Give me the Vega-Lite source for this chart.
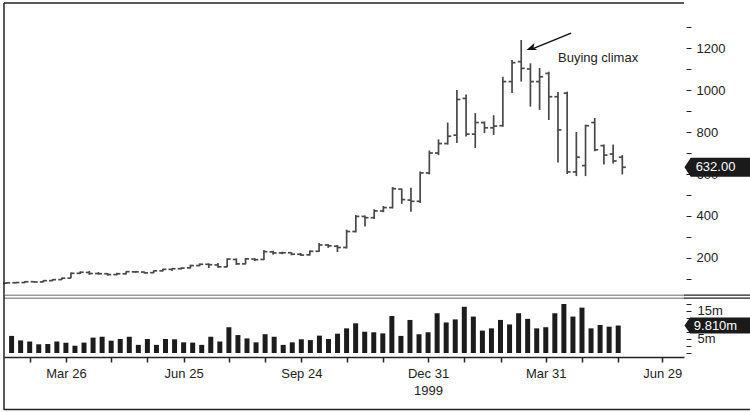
{
  "$schema": "https://vega.github.io/schema/vega-lite/v6.json",
  "padding": {"left": 2, "top": 2, "right": 0, "bottom": 0},
  "background": "white",
  "spacing": 0,
  "bounds": "flush",
  "config": {
    "view": {"stroke": null},
    "font": "Liberation Sans",
    "axis": {"labelFont": "Liberation Sans", "labelFontSize": 13, "labelColor": "#222", "tickColor": "#222", "domain": false, "grid": false, "title": null}
  },
  "datasets": {
    "w": [
      {"d": "1999-02-12", "o": 80, "h": 85, "l": 78, "c": 82, "v": 6.1},
      {"d": "1999-02-19", "o": 82, "h": 86, "l": 80, "c": 83, "v": 4.5},
      {"d": "1999-02-26", "o": 83, "h": 90, "l": 81, "c": 87, "v": 4.1},
      {"d": "1999-03-05", "o": 87, "h": 90, "l": 84, "c": 86, "v": 3.1},
      {"d": "1999-03-12", "o": 86, "h": 95, "l": 85, "c": 92, "v": 3.2},
      {"d": "1999-03-19", "o": 92, "h": 99, "l": 90, "c": 97, "v": 4.1},
      {"d": "1999-03-26", "o": 97, "h": 106, "l": 95, "c": 104, "v": 3.7},
      {"d": "1999-04-02", "o": 104, "h": 131, "l": 103, "c": 127, "v": 2.6},
      {"d": "1999-04-09", "o": 127, "h": 136, "l": 124, "c": 132, "v": 3.7},
      {"d": "1999-04-16", "o": 131, "h": 138, "l": 120, "c": 126, "v": 5.5},
      {"d": "1999-04-23", "o": 126, "h": 133, "l": 121, "c": 125, "v": 5.8},
      {"d": "1999-04-30", "o": 125, "h": 128, "l": 116, "c": 121, "v": 4.4},
      {"d": "1999-05-07", "o": 121, "h": 130, "l": 118, "c": 125, "v": 5.0},
      {"d": "1999-05-14", "o": 125, "h": 137, "l": 122, "c": 135, "v": 5.8},
      {"d": "1999-05-21", "o": 134, "h": 138, "l": 130, "c": 134, "v": 2.9},
      {"d": "1999-05-28", "o": 133, "h": 135, "l": 126, "c": 129, "v": 5.0},
      {"d": "1999-06-04", "o": 130, "h": 141, "l": 128, "c": 139, "v": 2.9},
      {"d": "1999-06-11", "o": 139, "h": 149, "l": 136, "c": 146, "v": 5.0},
      {"d": "1999-06-18", "o": 146, "h": 150, "l": 138, "c": 149, "v": 4.9},
      {"d": "1999-06-25", "o": 149, "h": 155, "l": 145, "c": 152, "v": 3.8},
      {"d": "1999-07-02", "o": 153, "h": 168, "l": 150, "c": 164, "v": 3.7},
      {"d": "1999-07-09", "o": 164, "h": 174, "l": 161, "c": 170, "v": 2.9},
      {"d": "1999-07-16", "o": 170, "h": 174, "l": 152, "c": 168, "v": 5.8},
      {"d": "1999-07-23", "o": 167, "h": 176, "l": 153, "c": 158, "v": 4.1},
      {"d": "1999-07-30", "o": 158, "h": 198, "l": 156, "c": 195, "v": 9.2},
      {"d": "1999-08-06", "o": 193, "h": 198, "l": 167, "c": 172, "v": 6.4},
      {"d": "1999-08-13", "o": 172, "h": 200, "l": 170, "c": 196, "v": 5.2},
      {"d": "1999-08-20", "o": 195, "h": 199, "l": 185, "c": 192, "v": 3.8},
      {"d": "1999-08-27", "o": 193, "h": 238, "l": 190, "c": 230, "v": 6.7},
      {"d": "1999-09-03", "o": 229, "h": 234, "l": 216, "c": 224, "v": 5.8},
      {"d": "1999-09-10", "o": 224, "h": 230, "l": 218, "c": 225, "v": 2.9},
      {"d": "1999-09-17", "o": 225, "h": 228, "l": 213, "c": 218, "v": 3.8},
      {"d": "1999-09-24", "o": 218, "h": 224, "l": 210, "c": 214, "v": 4.9},
      {"d": "1999-10-01", "o": 215, "h": 236, "l": 212, "c": 232, "v": 4.6},
      {"d": "1999-10-08", "o": 232, "h": 272, "l": 228, "c": 262, "v": 6.2},
      {"d": "1999-10-15", "o": 262, "h": 266, "l": 248, "c": 258, "v": 5.0},
      {"d": "1999-10-22", "o": 256, "h": 262, "l": 228, "c": 250, "v": 6.9},
      {"d": "1999-10-29", "o": 250, "h": 335, "l": 245, "c": 326, "v": 8.8},
      {"d": "1999-11-05", "o": 326, "h": 405, "l": 322, "c": 398, "v": 10.6},
      {"d": "1999-11-12", "o": 398, "h": 402, "l": 350, "c": 392, "v": 7.6},
      {"d": "1999-11-19", "o": 392, "h": 432, "l": 386, "c": 424, "v": 7.4},
      {"d": "1999-11-26", "o": 424, "h": 448, "l": 418, "c": 440, "v": 7.0},
      {"d": "1999-12-03", "o": 440, "h": 538, "l": 436, "c": 530, "v": 13.2},
      {"d": "1999-12-10", "o": 528, "h": 530, "l": 458, "c": 478, "v": 6.1},
      {"d": "1999-12-17", "o": 476, "h": 534, "l": 420, "c": 470, "v": 11.8},
      {"d": "1999-12-24", "o": 470, "h": 612, "l": 462, "c": 605, "v": 6.7},
      {"d": "1999-12-31", "o": 605, "h": 712, "l": 598, "c": 700, "v": 7.4},
      {"d": "2000-01-07", "o": 700, "h": 765, "l": 690, "c": 745, "v": 14.2},
      {"d": "2000-01-14", "o": 745, "h": 845, "l": 740, "c": 780, "v": 10.9},
      {"d": "2000-01-21", "o": 785, "h": 1000, "l": 748, "c": 955, "v": 12.0},
      {"d": "2000-01-28", "o": 960, "h": 978, "l": 778, "c": 790, "v": 16.5},
      {"d": "2000-02-04", "o": 790, "h": 890, "l": 724, "c": 845, "v": 13.0},
      {"d": "2000-02-11", "o": 845, "h": 850, "l": 795, "c": 820, "v": 8.0},
      {"d": "2000-02-18", "o": 820, "h": 880, "l": 786, "c": 828, "v": 8.8},
      {"d": "2000-02-25", "o": 830, "h": 1063, "l": 825, "c": 1040, "v": 11.8},
      {"d": "2000-03-03", "o": 1040, "h": 1143, "l": 986, "c": 1130, "v": 10.2},
      {"d": "2000-03-10", "o": 1135, "h": 1238, "l": 1040, "c": 1103, "v": 14.2},
      {"d": "2000-03-17", "o": 1100, "h": 1127, "l": 921, "c": 1040, "v": 12.2},
      {"d": "2000-03-24", "o": 1040, "h": 1105, "l": 905, "c": 1063, "v": 8.8},
      {"d": "2000-03-31", "o": 1079, "h": 1087, "l": 857, "c": 968, "v": 9.2},
      {"d": "2000-04-07", "o": 968, "h": 990, "l": 655, "c": 810, "v": 14.2},
      {"d": "2000-04-14", "o": 985, "h": 992, "l": 600, "c": 610, "v": 17.5},
      {"d": "2000-04-21", "o": 610, "h": 800, "l": 590, "c": 680, "v": 13.0},
      {"d": "2000-04-28", "o": 640, "h": 835, "l": 590, "c": 830, "v": 16.2},
      {"d": "2000-05-05", "o": 845, "h": 867, "l": 708, "c": 715, "v": 8.8},
      {"d": "2000-05-12", "o": 735, "h": 740, "l": 645, "c": 690, "v": 10.0},
      {"d": "2000-05-19", "o": 695, "h": 740, "l": 650, "c": 662, "v": 9.4},
      {"d": "2000-05-26", "o": 680, "h": 690, "l": 598, "c": 632, "v": 9.81}
    ]
  },
  "vconcat": [
    {
      "width": 680,
      "height": 292,
      "data": {"name": "w"},
      "resolve": {"scale": {"x": "independent", "y": "independent"}, "axis": {"x": "independent", "y": "independent"}},
      "layer": [
        {
          "mark": {"type": "rule", "color": "#484848", "strokeWidth": 1.7},
          "encoding": {
            "x": {"field": "d", "type": "temporal", "axis": null,
                  "scale": {"domain": [{"year": 1999, "month": 2, "date": 10, "utc": true}, {"year": 2000, "month": 7, "date": 12, "utc": true}]}},
            "y": {"field": "l", "type": "quantitative",
                  "scale": {"domain": [23.8, 1414.3], "zero": false, "nice": false},
                  "axis": {"orient": "right", "offset": 2, "tickSize": 5, "labelPadding": 5,
                           "values": [100, 200, 300, 400, 500, 600, 700, 800, 900, 1000, 1100, 1200, 1300],
                           "labelExpr": "datum.value % 200 == 0 ? format(datum.value, 'd') : ''", "labelBaseline": "middle"}},
            "y2": {"field": "h"}
          }
        },
        {
          "mark": {"type": "rule", "color": "#484848", "strokeWidth": 1.7, "x2Offset": -3.5},
          "encoding": {
            "x": {"field": "d", "type": "temporal", "axis": null, "scale": {"domain": [{"year": 1999, "month": 2, "date": 10, "utc": true}, {"year": 2000, "month": 7, "date": 12, "utc": true}]}},
            "x2": {"field": "d"},
            "y": {"field": "o", "type": "quantitative", "axis": null, "scale": {"domain": [23.8, 1414.3], "zero": false, "nice": false}}
          }
        },
        {
          "mark": {"type": "rule", "color": "#484848", "strokeWidth": 1.7, "x2Offset": 3.5},
          "encoding": {
            "x": {"field": "d", "type": "temporal", "axis": null, "scale": {"domain": [{"year": 1999, "month": 2, "date": 10, "utc": true}, {"year": 2000, "month": 7, "date": 12, "utc": true}]}},
            "x2": {"field": "d"},
            "y": {"field": "c", "type": "quantitative", "axis": null, "scale": {"domain": [23.8, 1414.3], "zero": false, "nice": false}}
          }
        },
        {
          "data": {"values": [{}]},
          "mark": {"type": "rule", "color": "#222", "strokeWidth": 1.5},
          "encoding": {
            "x": {"datum": {"year": 1999, "month": 2, "date": 10, "utc": true}, "type": "temporal", "axis": null, "scale": {"domain": [{"year": 1999, "month": 2, "date": 10, "utc": true}, {"year": 2000, "month": 7, "date": 12, "utc": true}]}},
            "x2": {"datum": {"year": 2000, "month": 7, "date": 12, "utc": true}},
            "y": {"datum": 1414.3, "type": "quantitative", "axis": null, "scale": {"domain": [23.8, 1414.3], "zero": false, "nice": false}}
          }
        },
        {
          "data": {"values": [{}]},
          "mark": {"type": "rule", "color": "#222", "strokeWidth": 1.5},
          "encoding": {
            "x": {"datum": {"year": 1999, "month": 2, "date": 10, "utc": true}, "type": "temporal", "axis": null, "scale": {"domain": [{"year": 1999, "month": 2, "date": 10, "utc": true}, {"year": 2000, "month": 7, "date": 12, "utc": true}]}},
            "y": {"datum": 23.8, "type": "quantitative", "axis": null, "scale": {"domain": [23.8, 1414.3], "zero": false, "nice": false}},
            "y2": {"datum": 1414.3}
          }
        },
        {
          "data": {"values": [{}]},
          "mark": {"type": "text", "text": "Buying climax", "align": "left", "baseline": "middle", "fontSize": 13, "color": "#222"},
          "encoding": {
            "x": {"datum": {"year": 2000, "month": 4, "date": 7, "utc": true}, "type": "temporal", "axis": null, "scale": {"domain": [{"year": 1999, "month": 2, "date": 10, "utc": true}, {"year": 2000, "month": 7, "date": 12, "utc": true}]}},
            "y": {"datum": 1152, "type": "quantitative", "axis": null, "scale": {"domain": [23.8, 1414.3], "zero": false, "nice": false}}
          }
        },
        {
          "data": {"values": [{}]},
          "mark": {"type": "rule", "color": "#111", "strokeWidth": 1.5},
          "encoding": {
            "x": {"datum": {"year": 2000, "month": 4, "date": 17, "utc": true}, "type": "temporal", "axis": null, "scale": {"domain": [{"year": 1999, "month": 2, "date": 10, "utc": true}, {"year": 2000, "month": 7, "date": 12, "utc": true}]}},
            "x2": {"datum": {"year": 2000, "month": 3, "date": 19, "utc": true}},
            "y": {"datum": 1271, "type": "quantitative", "axis": null, "scale": {"domain": [23.8, 1414.3], "zero": false, "nice": false}},
            "y2": {"datum": 1197}
          }
        },
        {
          "data": {"values": [{}]},
          "mark": {"type": "point", "shape": "M 0 0 L 2 -0.75 L 1.5 0 L 2 0.75 Z", "filled": true, "color": "#111", "opacity": 1, "size": 100, "angle": 339},
          "encoding": {
            "x": {"datum": {"year": 2000, "month": 3, "date": 14, "utc": true}, "type": "temporal", "axis": null, "scale": {"domain": [{"year": 1999, "month": 2, "date": 10, "utc": true}, {"year": 2000, "month": 7, "date": 12, "utc": true}]}},
            "y": {"datum": 1190, "type": "quantitative", "axis": null, "scale": {"domain": [23.8, 1414.3], "zero": false, "nice": false}}
          }
        },
        {
          "transform": [{"filter": "utcyear(datum.d) == 2000 && utcmonth(datum.d) == 4 && utcdate(datum.d) == 26"}],
          "mark": {"type": "point", "shape": "M -1 0 L -0.82 -0.27 L 1 -0.27 L 1 0.27 L -0.82 0.27 Z", "filled": true, "color": "#1a1a1a", "opacity": 1, "size": 4900},
          "encoding": {
            "x": {"datum": {"year": 2000, "month": 8, "date": 8, "utc": true}, "type": "temporal", "axis": null, "scale": {"domain": [{"year": 1999, "month": 2, "date": 10, "utc": true}, {"year": 2000, "month": 7, "date": 12, "utc": true}]}},
            "y": {"field": "c", "type": "quantitative", "axis": null, "scale": {"domain": [23.8, 1414.3], "zero": false, "nice": false}}
          }
        },
        {
          "transform": [{"filter": "utcyear(datum.d) == 2000 && utcmonth(datum.d) == 4 && utcdate(datum.d) == 26"}],
          "mark": {"type": "text", "align": "center", "baseline": "middle", "fontSize": 13, "color": "white"},
          "encoding": {
            "x": {"datum": {"year": 2000, "month": 8, "date": 5, "utc": true}, "type": "temporal", "axis": null, "scale": {"domain": [{"year": 1999, "month": 2, "date": 10, "utc": true}, {"year": 2000, "month": 7, "date": 12, "utc": true}]}},
            "y": {"field": "c", "type": "quantitative", "axis": null, "scale": {"domain": [23.8, 1414.3], "zero": false, "nice": false}},
            "text": {"field": "c", "type": "quantitative", "format": ".2f"}
          }
        }
      ]
    },
    {
      "width": 680,
      "height": 115,
      "data": {"name": "w"},
      "resolve": {"scale": {"x": "independent", "y": "independent"}, "axis": {"x": "independent", "y": "independent"}},
      "layer": [
        {
          "mark": {"type": "bar", "color": "#1c1c1c", "size": 5},
          "encoding": {
            "x": {"field": "d", "type": "temporal",
                  "scale": {"domain": [{"year": 1999, "month": 2, "date": 10, "utc": true}, {"year": 2000, "month": 7, "date": 12, "utc": true}]},
                  "axis": {"orient": "bottom", "offset": -53, "domain": true, "domainColor": "#222", "domainWidth": 1.5,
                           "tickSize": 5, "tickWidth": 1.5, "labelPadding": 5, "labelOverlap": false, "labelFlush": false, "labelLineHeight": 17,
                           "values": [
                             {"year": 1999, "month": 2, "date": 26, "utc": true},
                             {"year": 1999, "month": 3, "date": 26, "utc": true},
                             {"year": 1999, "month": 4, "date": 30, "utc": true},
                             {"year": 1999, "month": 5, "date": 28, "utc": true},
                             {"year": 1999, "month": 6, "date": 25, "utc": true},
                             {"year": 1999, "month": 7, "date": 30, "utc": true},
                             {"year": 1999, "month": 8, "date": 27, "utc": true},
                             {"year": 1999, "month": 9, "date": 24, "utc": true},
                             {"year": 1999, "month": 10, "date": 29, "utc": true},
                             {"year": 1999, "month": 11, "date": 26, "utc": true},
                             {"year": 1999, "month": 12, "date": 31, "utc": true},
                             {"year": 2000, "month": 1, "date": 28, "utc": true},
                             {"year": 2000, "month": 2, "date": 25, "utc": true},
                             {"year": 2000, "month": 3, "date": 31, "utc": true},
                             {"year": 2000, "month": 4, "date": 28, "utc": true},
                             {"year": 2000, "month": 5, "date": 26, "utc": true},
                             {"year": 2000, "month": 6, "date": 29, "utc": true}
                           ],
                           "labelExpr": "indexof([2,5,8,11], utcmonth(datum.value)) >= 0 ? (utcmonth(datum.value) == 11 ? [utcFormat(datum.value, '%b %d'), '1999'] : utcFormat(datum.value, '%b %d')) : ''"}},
            "y": {"field": "v", "type": "quantitative",
                  "scale": {"domain": [-20.36, 20.71], "zero": false, "nice": false},
                  "axis": {"orient": "right", "offset": 2, "tickSize": 5, "labelPadding": 6,
                           "values": [0, 2.5, 5, 7.5, 10, 12.5, 15, 17.5],
                           "labelExpr": "datum.value == 5 || datum.value == 15 ? datum.value + 'm' : ''", "labelBaseline": "middle"}},
            "y2": {"datum": 0}
          }
        },
        {
          "data": {"values": [{"k": 20.64}, {"k": 19.57}]},
          "mark": {"type": "rule", "color": "#9a9a9a", "strokeWidth": 1.5},
          "encoding": {
            "x": {"datum": {"year": 1999, "month": 2, "date": 10, "utc": true}, "type": "temporal", "axis": null, "scale": {"domain": [{"year": 1999, "month": 2, "date": 10, "utc": true}, {"year": 2000, "month": 7, "date": 12, "utc": true}]}},
            "x2": {"datum": {"year": 2000, "month": 7, "date": 12, "utc": true}},
            "y": {"field": "k", "type": "quantitative", "axis": null, "scale": {"domain": [-20.36, 20.71], "zero": false, "nice": false}}
          }
        },
        {
          "data": {"values": [{"k": 20.64}, {"k": 19.57}]},
          "mark": {"type": "rule", "color": "#222", "strokeWidth": 1.3},
          "encoding": {
            "x": {"datum": {"year": 2000, "month": 7, "date": 12, "utc": true}, "type": "temporal", "axis": null, "scale": {"domain": [{"year": 1999, "month": 2, "date": 10, "utc": true}, {"year": 2000, "month": 7, "date": 12, "utc": true}]}},
            "x2": {"datum": {"year": 2000, "month": 9, "date": 5, "utc": true}},
            "y": {"field": "k", "type": "quantitative", "axis": null, "scale": {"domain": [-20.36, 20.71], "zero": false, "nice": false}}
          }
        },
        {
          "data": {"values": [{}]},
          "mark": {"type": "rule", "color": "#222", "strokeWidth": 1.5},
          "encoding": {
            "x": {"datum": {"year": 1999, "month": 2, "date": 10, "utc": true}, "type": "temporal", "axis": null, "scale": {"domain": [{"year": 1999, "month": 2, "date": 10, "utc": true}, {"year": 2000, "month": 7, "date": 12, "utc": true}]}},
            "y": {"datum": -20.36, "type": "quantitative", "axis": null, "scale": {"domain": [-20.36, 20.71], "zero": false, "nice": false}},
            "y2": {"datum": 20.71}
          }
        },
        {
          "data": {"values": [{}]},
          "mark": {"type": "rule", "color": "#222", "strokeWidth": 1.5},
          "encoding": {
            "x": {"datum": {"year": 1999, "month": 2, "date": 10, "utc": true}, "type": "temporal", "axis": null, "scale": {"domain": [{"year": 1999, "month": 2, "date": 10, "utc": true}, {"year": 2000, "month": 7, "date": 12, "utc": true}]}},
            "x2": {"datum": {"year": 2000, "month": 9, "date": 5, "utc": true}},
            "y": {"datum": -20.2, "type": "quantitative", "axis": null, "scale": {"domain": [-20.36, 20.71], "zero": false, "nice": false}}
          }
        },
        {
          "transform": [{"filter": "utcyear(datum.d) == 2000 && utcmonth(datum.d) == 4 && utcdate(datum.d) == 26"}],
          "mark": {"type": "point", "shape": "M -1 0 L -0.84 -0.23 L 1 -0.23 L 1 0.23 L -0.84 0.23 Z", "filled": true, "color": "#1a1a1a", "opacity": 1, "size": 4900},
          "encoding": {
            "x": {"datum": {"year": 2000, "month": 8, "date": 8, "utc": true}, "type": "temporal", "axis": null, "scale": {"domain": [{"year": 1999, "month": 2, "date": 10, "utc": true}, {"year": 2000, "month": 7, "date": 12, "utc": true}]}},
            "y": {"field": "v", "type": "quantitative", "axis": null, "scale": {"domain": [-20.36, 20.71], "zero": false, "nice": false}}
          }
        },
        {
          "transform": [{"filter": "utcyear(datum.d) == 2000 && utcmonth(datum.d) == 4 && utcdate(datum.d) == 26"}, {"calculate": "format(datum.v, '.3f') + 'm'", "as": "lab"}],
          "mark": {"type": "text", "align": "center", "baseline": "middle", "fontSize": 13, "color": "white"},
          "encoding": {
            "x": {"datum": {"year": 2000, "month": 8, "date": 5, "utc": true}, "type": "temporal", "axis": null, "scale": {"domain": [{"year": 1999, "month": 2, "date": 10, "utc": true}, {"year": 2000, "month": 7, "date": 12, "utc": true}]}},
            "y": {"field": "v", "type": "quantitative", "axis": null, "scale": {"domain": [-20.36, 20.71], "zero": false, "nice": false}},
            "text": {"field": "lab", "type": "nominal"}
          }
        }
      ]
    }
  ]
}
